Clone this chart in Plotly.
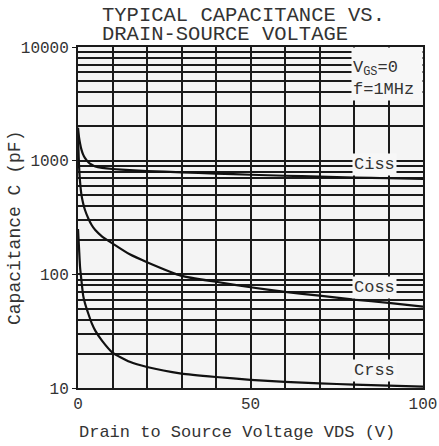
import math
import plotly.graph_objects as go

vds = [0, 0.3, 0.6, 1, 1.5, 2, 3, 4, 5, 7, 10, 15, 20, 30, 40, 50, 60, 70, 80, 90, 100]
ciss = [1950, 1600, 1420, 1250, 1130, 1060, 970, 920, 890, 865, 845, 825, 810, 790, 770, 752, 737, 723, 710, 700, 690]
coss = [1600, 900, 650, 500, 420, 370, 310, 270, 245, 215, 187, 150, 128, 97, 86, 77, 70, 65, 60, 56, 52]
crss = [250, 170, 115, 88, 65, 56, 45, 37, 32, 26, 20.5, 17, 15.3, 13.4, 12.5, 11.8, 11.3, 11, 10.7, 10.5, 10.3]

curve_labels = ["Ciss", "Coss", "Crss"]
label_x = 86
label_y = [920, 77, 14.3]

y_major = [10, 100, 1000, 10000]
y_major_text = ["10", "100", "1000", "10000"]
y_minor = [m * d for d in [10, 100, 1000] for m in range(2, 10)]
x_ticks = [0, 50, 100]

title_lines = ["TYPICAL CAPACITANCE VS.", "DRAIN-SOURCE VOLTAGE"]
x_title = "Drain to Source Voltage VDS (V)"
y_title = "Capacitance C (pF)"

MONO = "Liberation Mono"
INK = "#1a1a1a"
TXT = "#333"
W, H = 439, 446
ML, MR, MT, MB = 78, 16, 47, 58
PH = H - MT - MB
PW = W - ML - MR


def px_x(p):
    return (p - ML) / PW


def px_y(p):
    return 1 - (p - MT) / PH


fig = go.Figure()
for name, ys in zip(curve_labels, [ciss, coss, crss]):
    fig.add_trace(go.Scatter(x=vds, y=ys, mode="lines", name=name,
                             line=dict(color="#111", width=2.2, shape="spline", smoothing=0.5),
                             showlegend=False, hoverinfo="skip"))

for name, yv in zip(curve_labels, label_y):
    fig.add_annotation(x=label_x, y=math.log10(yv), yref="y", xref="x", text=name,
                       showarrow=False, font=dict(family=MONO, size=17, color=TXT),
                       bgcolor="#f7f7f7", borderpad=1)

fig.add_annotation(x=1, y=1, xref="paper", yref="paper", xanchor="right", yanchor="top",
                   text="V<sub>GS</sub>=0<br>f=1MHz", showarrow=False, align="left",
                   valign="bottom", width=68, height=50,
                   font=dict(family=MONO, size=17, color=TXT), bgcolor="#f7f7f7",
                   borderpad=1)

for i, line in enumerate(title_lines):
    fig.add_annotation(x=px_x(100), y=px_y(15 + 19 * i),
                       xref="paper", yref="paper", xanchor="left", yanchor="middle",
                       showarrow=False, text=line,
                       font=dict(family=MONO, size=20.5, color=TXT))

fig.add_annotation(x=px_x(237), y=px_y(432), xref="paper", yref="paper",
                   xanchor="center", yanchor="middle", showarrow=False, text=x_title,
                   font=dict(family=MONO, size=17, color=TXT))
fig.add_annotation(x=px_x(15), y=px_y(228), xref="paper", yref="paper",
                   xanchor="center", yanchor="middle", showarrow=False, text=y_title,
                   textangle=-90, font=dict(family=MONO, size=18, color=TXT))

fig.update_layout(
    width=W, height=H,
    margin=dict(l=ML, r=MR, t=MT, b=MB),
    paper_bgcolor="white", plot_bgcolor="#f4f4f4",
    xaxis=dict(range=[0, 100], tickvals=x_ticks, ticktext=[str(v) for v in x_ticks],
               showgrid=True, gridcolor=INK, gridwidth=2, automargin=False,
               minor=dict(dtick=10, showgrid=True, gridcolor=INK, gridwidth=2),
               showline=True, linecolor=INK, linewidth=2, mirror=True,
               ticks="", zeroline=False,
               tickfont=dict(family=MONO, size=16, color=TXT)),
    yaxis=dict(type="log", range=[1, 4], tickvals=y_major, ticktext=y_major_text,
               showgrid=True, gridcolor=INK, gridwidth=2, automargin=False,
               minor=dict(tickvals=y_minor, showgrid=True, gridcolor=INK, gridwidth=1.6),
               showline=True, linecolor=INK, linewidth=2, mirror=True,
               ticks="outside", ticklen=4, tickcolor=INK, zeroline=False,
               tickfont=dict(family=MONO, size=16, color=TXT)),
)

fig.write_html("out.html")
